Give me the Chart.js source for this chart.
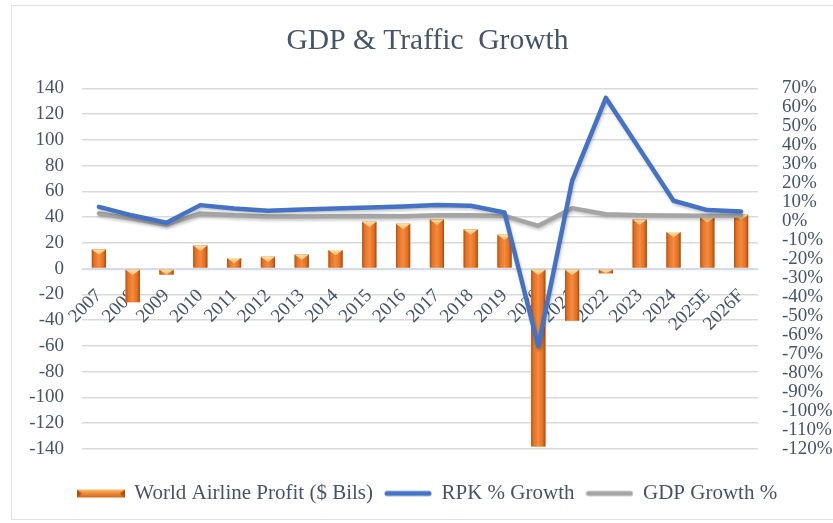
<!DOCTYPE html>
<html>
<head>
<meta charset="utf-8">
<script src="https://cdn.jsdelivr.net/npm/chart.js@4/dist/chart.umd.min.js"></script>
<style>
  html, body { margin: 0; padding: 0; background: #ffffff; overflow: hidden; width: 833px; height: 523px; }
  #frame { position: absolute; left: 11px; top: 5px; width: 833px; height: 515px; border: 1.5px solid #dfe3e9; box-sizing: border-box; background: #fff; }
  #c { position: absolute; left: -1.5px; top: -1.5px; }
</style>
</head>
<body>
<div id="frame"><canvas id="c" width="833" height="515"></canvas></div>
<script>
const years = ['2007','2008','2009','2010','2011','2012','2013','2014','2015','2016','2017','2018','2019','2020','2021','2022','2023','2024','2025E','2026F'];
const airlineProfit = [15, -26, -4.6, 18, 8.3, 9.3, 11, 14.5, 36.4, 34.9, 38.2, 30.5, 26.4, -138, -40.3, -3.6, 38.2, 28.4, 39.8, 41.9];
const rpkGrowth = [7.6, 3.0, -0.8, 8.5, 6.7, 5.5, 6.2, 6.7, 7.3, 7.8, 8.5, 8.2, 4.6, -66, 21.3, 65, 38, 10.8, 5.9, 5.2];
const gdpGrowth = [4.1, 1.3, -1.8, 4.1, 3.1, 2.5, 2.5, 2.6, 2.8, 2.6, 3.2, 3.2, 2.8, -2.4, 6.9, 3.7, 3.2, 3.0, 2.9, 3.0];
const leftTicks = { min: -140, max: 140, step: 20 };
const rightTicks = { min: -120, max: 70, step: 10 };

const TEXT = '#44546a';
const SERIF = "'Liberation Serif', 'Times New Roman', serif";

function barGradient(ctx, left, width) {
  const g = ctx.createLinearGradient(left, 0, left + width, 0);
  g.addColorStop(0, '#b9510d');
  g.addColorStop(0.18, '#e3732a');
  g.addColorStop(0.5, '#f68b3c');
  g.addColorStop(0.82, '#e06f25');
  g.addColorStop(1, '#a9470a');
  return g;
}
function drawBevelBar(ctx, left, top, w, h) {
  ctx.save();
  ctx.fillStyle = barGradient(ctx, left, w);
  ctx.fillRect(left, top, w, h);
  const th = Math.min(h, w * 0.38);
  ctx.beginPath();
  ctx.moveTo(left, top);
  ctx.lineTo(left + w, top);
  ctx.lineTo(left + w * 0.5, top + th);
  ctx.closePath();
  const tg = ctx.createLinearGradient(0, top, 0, top + th);
  tg.addColorStop(0, '#fde3a7');
  tg.addColorStop(1, '#f7b668');
  ctx.fillStyle = tg;
  ctx.fill();
  ctx.restore();
}

function makeIcon(kind) {
  const cv = document.createElement('canvas');
  cv.width = 48; cv.height = 12;
  const ctx = cv.getContext('2d');
  if (kind === 'bar') {
    const g = ctx.createLinearGradient(0, 1, 0, 11);
    g.addColorStop(0, '#fbd08e');
    g.addColorStop(0.35, '#f59a45');
    g.addColorStop(1, '#c85a12');
    ctx.fillStyle = g;
    ctx.fillRect(0, 2, 48, 8);
    ctx.fillStyle = '#b4500c';
    ctx.beginPath(); ctx.moveTo(0,2); ctx.lineTo(5,6); ctx.lineTo(0,10); ctx.fill();
    ctx.beginPath(); ctx.moveTo(48,2); ctx.lineTo(43,6); ctx.lineTo(48,10); ctx.fill();
  } else {
    ctx.strokeStyle = kind === 'rpk' ? '#4472c4' : '#a5a5a5';
    ctx.lineWidth = 5;
    ctx.lineCap = 'round';
    ctx.beginPath(); ctx.moveTo(3, 6); ctx.lineTo(45, 6); ctx.stroke();
  }
  return cv;
}
const icons = [makeIcon('bar'), makeIcon('rpk'), makeIcon('gdp')];

const bevelPlugin = {
  id: 'bevel',
  beforeDatasetDraw(chart, args) {
    if (args.meta.type === 'line') {
      const ctx = chart.ctx;
      ctx.save();
      ctx.shadowColor = 'rgba(0,0,0,0.22)';
      ctx.shadowBlur = 3;
      ctx.shadowOffsetX = 1;
      ctx.shadowOffsetY = 2;
    }
  },
  afterDatasetDraw(chart, args) {
    const ctx = chart.ctx;
    if (args.meta.type === 'line') { ctx.restore(); return; }
    if (args.meta.type !== 'bar') return;
    args.meta.data.forEach(el => {
      const p = el.getProps(['x', 'y', 'base', 'width'], true);
      const left = p.x - p.width / 2;
      const top = Math.min(p.y, p.base);
      const h = Math.abs(p.base - p.y);
      drawBevelBar(ctx, left, top, p.width, h);
    });
  }
};

new Chart(document.getElementById('c'), {
  type: 'bar',
  data: {
    labels: years,
    datasets: [
      { type: 'bar', label: 'World Airline Profit ($ Bils)', data: airlineProfit, yAxisID: 'y', xAxisID: 'x',
        backgroundColor: '#ed7d31', barPercentage: 0.42, categoryPercentage: 1, order: 2 },
      { type: 'line', label: 'RPK % Growth', data: rpkGrowth, yAxisID: 'y2', xAxisID: 'x',
        borderColor: '#4472c4', borderWidth: 4.5, pointRadius: 0, tension: 0, borderJoinStyle: 'round', borderCapStyle: 'round', order: 0 },
      { type: 'line', label: 'GDP Growth %', data: gdpGrowth, yAxisID: 'y2', xAxisID: 'x',
        borderColor: '#a5a5a5', borderWidth: 4.5, pointRadius: 0, tension: 0, borderJoinStyle: 'round', borderCapStyle: 'round', order: 1 }
    ]
  },
  options: {
    responsive: false,
    devicePixelRatio: 1,
    animation: false,
    layout: { padding: { left: 0, right: 0, top: 0, bottom: 6 } },
    plugins: {
      tooltip: { enabled: false },
      title: {
        display: true,
        text: 'GDP & Traffic  Growth',
        color: TEXT,
        font: { family: SERIF, size: 29.5, weight: 'normal', lineHeight: 1.2 },
        padding: { top: 19, bottom: 29 }
      },
      legend: {
        position: 'bottom',
        labels: {
          color: TEXT,
          font: { family: SERIF, size: 21 },
          usePointStyle: true,
          pointStyleWidth: 46,
          padding: 12,
          generateLabels(chart) {
            return chart.data.datasets.map((ds, i) => ({
              text: ds.label, pointStyle: icons[i], datasetIndex: i, fontColor: TEXT,
              hidden: false, lineWidth: 0, strokeStyle: 'transparent', fillStyle: 'transparent'
            }));
          }
        }
      }
    },
    scales: {
      x: {
        type: 'category',
        position: { y: 0 },
        offset: true,
        grid: { display: false },
        border: { display: false },
        ticks: { color: TEXT, font: { family: SERIF, size: 19 }, minRotation: 45, maxRotation: 45, autoSkip: false, padding: 8 }
      },
      xs: {
        type: 'category',
        position: 'bottom',
        labels: years,
        grid: { display: false },
        border: { display: false },
        ticks: { display: false },
        afterFit(s) { s.height = 22; }
      },
      y: {
        position: 'left',
        min: leftTicks.min, max: leftTicks.max,
        border: { display: false },
        grid: {
          drawTicks: false,
          color: c => c.tick && c.tick.value === 0 ? '#d5dce6' : '#d9d9d9',
          lineWidth: c => c.tick && c.tick.value === 0 ? 2.2 : 1.6
        },
        ticks: { stepSize: leftTicks.step, color: TEXT, font: { family: SERIF, size: 19, lineHeight: 1 }, padding: 18, autoSkip: false },
        afterFit(s) { s.width = 71; }
      },
      y2: {
        position: 'right',
        min: rightTicks.min, max: rightTicks.max,
        border: { display: false },
        grid: { display: false, drawTicks: false },
        ticks: { stepSize: rightTicks.step, color: TEXT, font: { family: SERIF, size: 19, lineHeight: 1 }, padding: 24, autoSkip: false,
          callback: v => v + '%' },
        afterFit(s) { s.width = 86; }
      }
    }
  },
  plugins: [bevelPlugin]
});
</script>
</body>
</html>
